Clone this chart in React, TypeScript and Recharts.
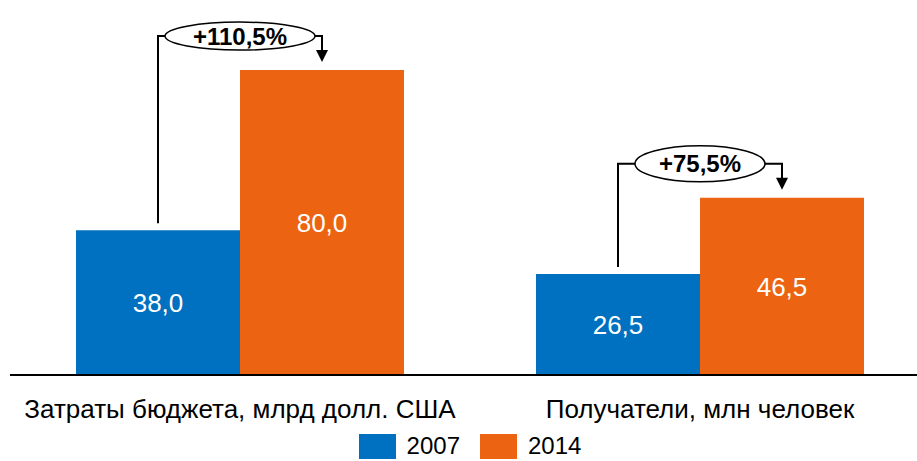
import { BarChart, Bar, XAxis, YAxis, Legend, LabelList } from "recharts";

const categories = ["Затраты бюджета, млрд долл. США", "Получатели, млн человек"];
const values2007 = [38.0, 26.5];
const values2014 = [80.0, 46.5];
const growthLabels = ["+110,5%", "+75,5%"];

const BLUE = "#0070C0";
const ORANGE = "#EC6412";
const FONT = "'Liberation Sans', Arial, sans-serif";

// ellipse sizes for the growth badges
const BADGE = [
  { rx: 75, ry: 14 },
  { rx: 65, ry: 18 },
];

const data = categories.map((name, i) => ({
  name,
  y2007: values2007[i],
  y2014: values2014[i],
  growth: growthLabels[i],
}));

const fmt = (v: any) => Number(v).toFixed(1).replace(".", ",");

// connector + badge, drawn from the 2014 bar geometry
const GrowthBadge = (props: any) => {
  const { x, y, width, height, index } = props;
  const row = data[index];
  const base = y + height;
  const blueTop = base - (height * row.y2007) / row.y2014;
  const cx = x;
  const cy = y - 34;
  const { rx, ry } = BADGE[index];
  const lx = x - width / 2;
  const ax = x + width / 2;
  const tip = y - 8;
  return (
    <g>
      <polyline
        points={`${lx},${blueTop - 7} ${lx},${cy} ${cx - rx},${cy}`}
        fill="none"
        stroke="#000"
        strokeWidth={2}
      />
      <polyline
        points={`${cx + rx},${cy} ${ax},${cy} ${ax},${tip - 10}`}
        fill="none"
        stroke="#000"
        strokeWidth={2}
      />
      <polygon points={`${ax - 6},${tip - 12} ${ax + 6},${tip - 12} ${ax},${tip}`} fill="#000" />
      <ellipse cx={cx} cy={cy} rx={rx} ry={ry} fill="#fff" stroke="#000" strokeWidth={1.5} />
      <text
        x={cx}
        y={cy}
        textAnchor="middle"
        dominantBaseline="central"
        fontSize={24}
        fontWeight="bold"
        fontFamily={FONT}
        fill="#000"
      >
        {row.growth}
      </text>
    </g>
  );
};

const renderLegend = (props: any) => {
  const { payload } = props;
  return (
    <div
      style={{
        display: "flex",
        justifyContent: "center",
        alignItems: "center",
        height: 30,
        fontFamily: FONT,
        fontSize: 24,
        color: "#000",
      }}
    >
      {payload.map((p: any, i: number) => (
        <div key={i} style={{ display: "flex", alignItems: "center", marginLeft: i ? 20 : 0 }}>
          <div style={{ width: 37, height: 25, background: p.color, marginRight: 11 }} />
          <span>{p.value}</span>
        </div>
      ))}
    </div>
  );
};

export default function App() {
  return (
    <div
      style={{
        position: "absolute",
        left: 0,
        top: 0,
        width: 917,
        height: 461,
        overflow: "hidden",
        background: "#fff",
      }}
    >
      <BarChart
        width={930}
        height={461}
        data={data}
        margin={{ top: 32, right: 0, left: 10, bottom: 0 }}
        barCategoryGap={66}
        barGap={0}
      >
        <XAxis
          dataKey="name"
          axisLine={{ stroke: "#000", strokeWidth: 2 }}
          tickLine={false}
          tickSize={0}
          tickMargin={25}
          interval={0}
          height={56}
          tick={{ fontSize: 26, fill: "#000", fontFamily: FONT }}
        />
        <YAxis hide domain={[0, 90]} />
        <Legend verticalAlign="bottom" content={renderLegend} />
        <Bar dataKey="y2007" name="2007" fill={BLUE} isAnimationActive={false}>
          <LabelList
            dataKey="y2007"
            position="center"
            formatter={fmt}
            fill="#fff"
            fontSize={26}
            fontFamily={FONT}
          />
        </Bar>
        <Bar dataKey="y2014" name="2014" fill={ORANGE} isAnimationActive={false}>
          <LabelList
            dataKey="y2014"
            position="center"
            formatter={fmt}
            fill="#fff"
            fontSize={26}
            fontFamily={FONT}
          />
          <LabelList dataKey="y2014" content={GrowthBadge} />
        </Bar>
      </BarChart>
    </div>
  );
}
